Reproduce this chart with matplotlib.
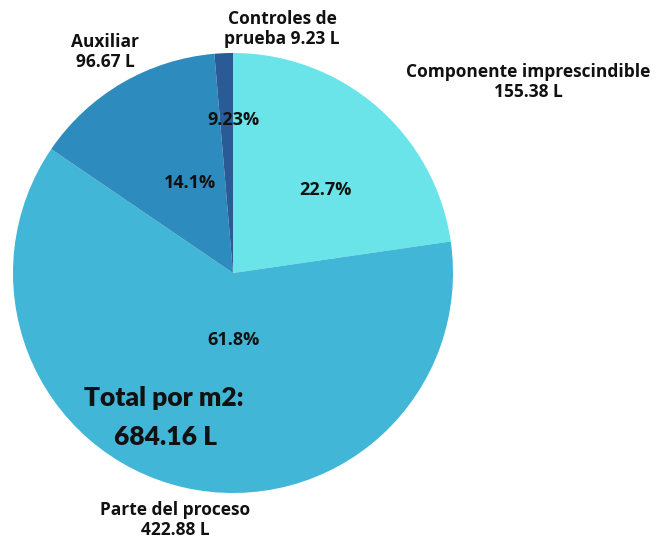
import matplotlib
matplotlib.use("Agg")
import matplotlib.pyplot as plt

categories = ["Componente imprescindible", "Parte del proceso", "Auxiliar", "Controles de\nprueba"]
values = [155.38, 422.88, 96.67, 9.23]
pct_labels = ["22.7%", "61.8%", "14.1%", "9.23%"]
colors = ["#6AE4E8", "#41B6D6", "#2E8BBD", "#2B5B96"]
total_label = ["Total por m2:", "684.16 L"]

W, H = 666, 546
fig = plt.figure(figsize=(W / 100, H / 100), dpi=100)
ax = fig.add_axes([0, 0, 1, 1])

cx, cy, r = 233, H - 273, 220
ax.pie(values, colors=colors, startangle=90, counterclock=False,
       center=(cx, cy), radius=r, frame=True,
       wedgeprops=dict(linewidth=0))
ax.set_xlim(0, W)
ax.set_ylim(0, H)
ax.set_aspect("equal")
ax.axis("off")

font = "Open Sans"
name_pos = [(528, 82), (175, 520), (105, 52), (282, 29)]
for cat, val, (px, py) in zip(categories, values, name_pos):
    ax.text(px, H - py, f"{cat} {val:.2f} L" if "\n" in cat else f"{cat}\n{val:.2f} L",
            ha="center", va="center", fontsize=12.5, fontweight="bold",
            family=font, color="#111111", linespacing=1.15)

pct_pos = [(325, 190), (233, 340), (190, 183), (233, 120)]
for lab, (px, py) in zip(pct_labels, pct_pos):
    ax.text(px, H - py, lab, ha="center", va="center", fontsize=13,
            fontweight="bold", family=font, color="#111111")

ax.text(164, H - 398, total_label[0], ha="center", va="center", fontsize=19,
        fontweight="heavy", family="Lato", color="#111111")
ax.text(165, H - 437, total_label[1], ha="center", va="center", fontsize=19,
        fontweight="heavy", family="Lato", color="#111111")

fig.savefig("out.png", dpi=100)
